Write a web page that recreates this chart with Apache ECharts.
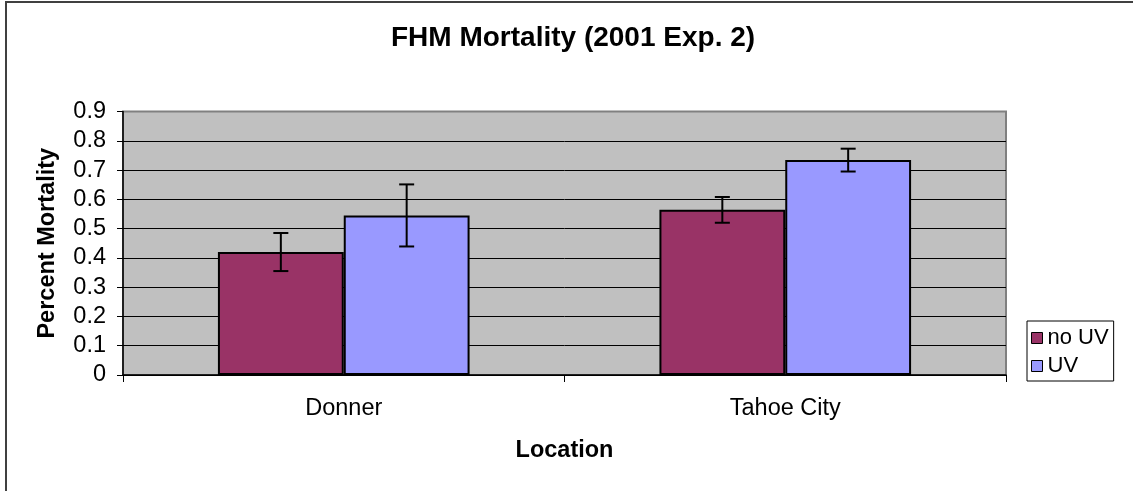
<!DOCTYPE html>
<html>
<head>
<meta charset="utf-8">
<script src="https://cdn.jsdelivr.net/npm/echarts@6/dist/echarts.min.js"></script>
<style>
html,body{margin:0;padding:0;background:#fff;}
#chart{width:1133px;height:491px;}
</style>
</head>
<body>
<div id="chart"></div>
<script>
// ---- data ----
var categories = ['Donner', 'Tahoe City'];
var seriesNames = ['no UV', 'UV'];
var noUV = [0.42, 0.564];
var noUVErr = [0.065, 0.044];
var UV = [0.545, 0.734];
var UVErr = [0.106, 0.039];
var yTicks = [0, 0.1, 0.2, 0.3, 0.4, 0.5, 0.6, 0.7, 0.8, 0.9];

var FONT = "'Liberation Sans', Arial, sans-serif";
var CAT_GAP = 0.43;

function errData(vals, errs) {
  return vals.map(function (v, i) { return [i, v - errs[i], v + errs[i]]; });
}

function makeErrRender(side) {
  return function (params, api) {
    var idx = api.value(0);
    var lo = api.coord([idx, api.value(1)]);
    var hi = api.coord([idx, api.value(2)]);
    var band = api.size([1, 0])[0];
    var barW = band * (1 - CAT_GAP) / 2;
    var x = lo[0] + side * barW / 2;
    var cap = 7.5;
    var style = { stroke: '#000', lineWidth: 2, fill: null };
    return {
      type: 'group',
      children: [
        { type: 'line', shape: { x1: x, y1: hi[1], x2: x, y2: lo[1] }, style: style },
        { type: 'line', shape: { x1: x - cap, y1: hi[1], x2: x + cap, y2: hi[1] }, style: style },
        { type: 'line', shape: { x1: x - cap, y1: lo[1], x2: x + cap, y2: lo[1] }, style: style }
      ]
    };
  };
}

var chart = echarts.init(document.getElementById('chart'), null, { renderer: 'canvas' });
var splitColors = yTicks.map(function (t, i) { return i === yTicks.length - 1 ? '#808080' : '#000'; });

chart.setOption({
  animation: false,
  backgroundColor: '#fff',
  textStyle: { fontFamily: FONT },
  title: {
    text: 'FHM Mortality (2001 Exp. 2)',
    left: 391,
    top: 24,
    padding: 0,
    textStyle: { fontFamily: FONT, fontSize: 28, fontWeight: 'bold', color: '#000' }
  },
  legend: {
    orient: 'vertical',
    left: 1027,
    top: 321,
    padding: [6, 5, 4, 4],
    itemGap: 6,
    itemWidth: 11,
    itemHeight: 11,
    icon: 'rect',
    borderColor: '#000',
    borderWidth: 1,
    backgroundColor: '#fff',
    data: seriesNames,
    itemStyle: { borderColor: '#000', borderWidth: 1 },
    textStyle: { fontFamily: FONT, fontSize: 22, color: '#000' }
  },
  grid: {
    left: 123, right: 127, top: 111.5, bottom: 116,
    show: true,
    backgroundColor: '#C0C0C0',
    borderColor: '#808080',
    borderWidth: 2
  },
  xAxis: {
    type: 'category',
    data: categories,
    name: 'Location',
    nameLocation: 'middle',
    nameGap: 64,
    nameTextStyle: { fontFamily: FONT, fontSize: 23.5, fontWeight: 'bold', color: '#000' },
    axisLine: { lineStyle: { color: '#000', width: 1.5 } },
    axisTick: { show: true, length: 7, lineStyle: { color: '#000' } },
    axisLabel: { margin: 22, fontFamily: FONT, fontSize: 23.5, color: '#000' },
    splitLine: { show: false }
  },
  yAxis: {
    type: 'value',
    min: 0,
    max: 0.9,
    interval: 0.1,
    name: 'Percent Mortality',
    nameLocation: 'middle',
    nameRotate: 90,
    nameGap: 63,
    nameTextStyle: { fontFamily: FONT, fontSize: 23.5, fontWeight: 'bold', color: '#000' },
    axisLine: { show: true, lineStyle: { color: '#000', width: 1.5 } },
    axisTick: { show: true, length: 6, lineStyle: { color: '#000' } },
    axisLabel: { margin: 17, fontFamily: FONT, fontSize: 23.5, color: '#000',
      formatter: function (v) { return String(Math.round(v * 10) / 10); } },
    splitLine: { show: true, lineStyle: { color: splitColors, width: 1 } }
  },
  graphic: [
    { type: 'rect', silent: true, z: 100,
      shape: { x: 6, y: 2, width: 1200, height: 600 },
      style: { fill: null, stroke: '#404040', lineWidth: 2 } }
  ],
  series: [
    {
      name: seriesNames[0], type: 'bar', data: noUV,
      barGap: '0%', barCategoryGap: (CAT_GAP * 100) + '%',
      itemStyle: { color: '#993366', borderColor: '#000', borderWidth: 2 }
    },
    {
      name: seriesNames[1], type: 'bar', data: UV,
      barGap: '0%', barCategoryGap: (CAT_GAP * 100) + '%',
      itemStyle: { color: '#9999FF', borderColor: '#000', borderWidth: 2 }
    },
    {
      type: 'custom', name: 'errNoUV', data: errData(noUV, noUVErr),
      renderItem: makeErrRender(-1), z: 10, silent: true, encode: { x: 0, y: [1, 2] }
    },
    {
      type: 'custom', name: 'errUV', data: errData(UV, UVErr),
      renderItem: makeErrRender(1), z: 10, silent: true, encode: { x: 0, y: [1, 2] }
    }
  ]
});
</script>
</body>
</html>
